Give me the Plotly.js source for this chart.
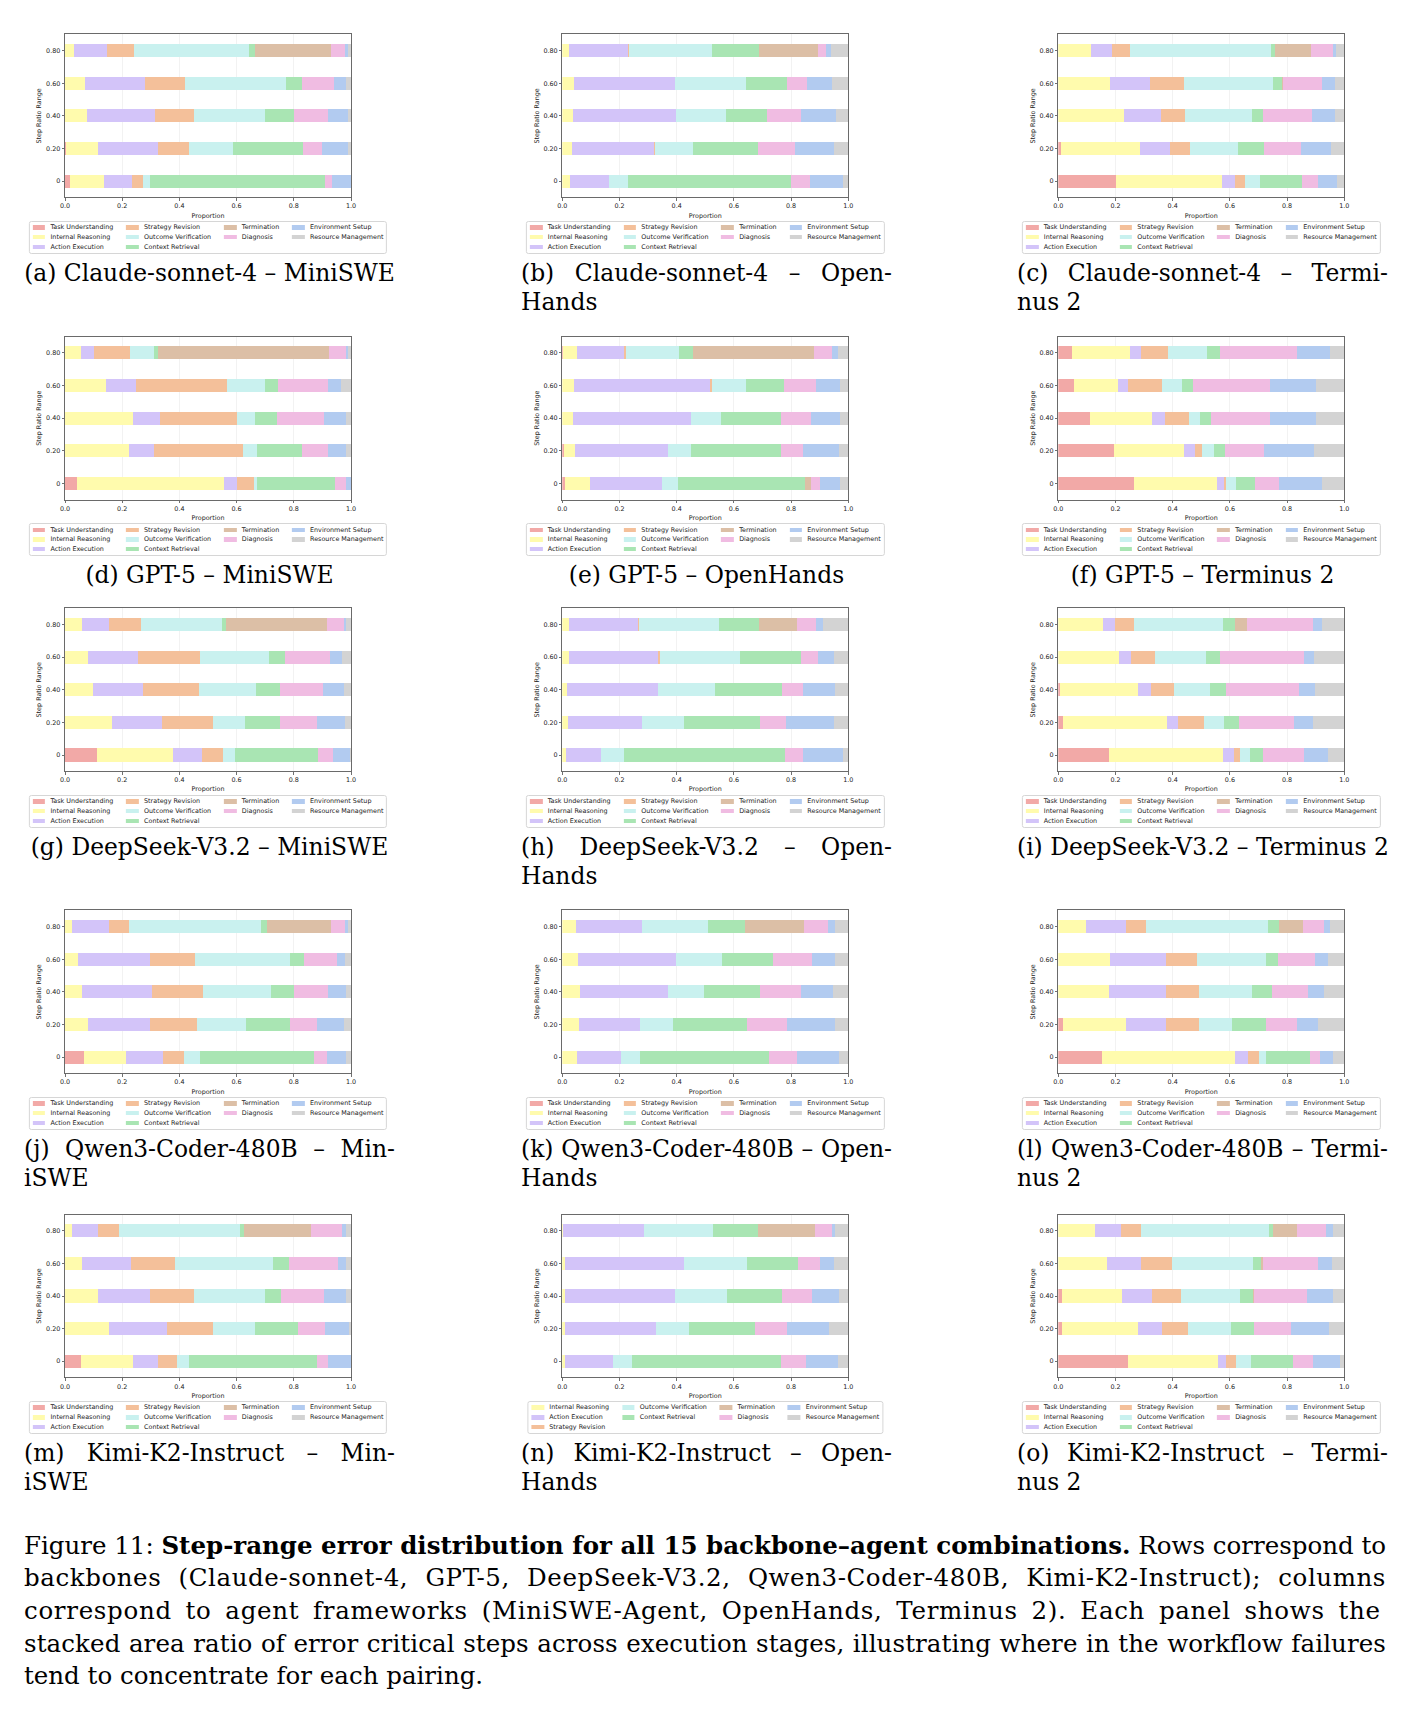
<!DOCTYPE html>
<html>
<head>
<meta charset="utf-8">
<script src="https://cdn.plot.ly/plotly-3.0.1.min.js"></script>
<style>
  body { margin: 0; background: #fff; }
  #page { position: relative; width: 1417px; height: 1709px; overflow: hidden; background: #fff; }
  #chart { position: absolute; left: 0; top: 0; width: 1417px; height: 1709px; }
  .legend { position: absolute; display: flex; border: 0.8px solid #d6d6d6; border-radius: 2.5px;
            background: rgba(255,255,255,0.85); padding: 2.7px 2.7px; font-family: 'DejaVu Sans';
            font-size: 6.4px; color: #222; transform: translateX(-50%); box-sizing: content-box; }
  .lcol { display: flex; flex-direction: column; margin-right: 12.8px; }
  .lcol:last-child { margin-right: 0; }
  .litem { display: flex; align-items: center; height: 6.4px; line-height: 6.4px; margin-bottom: 3.25px; white-space: nowrap; }
  .litem:last-child { margin-bottom: 0; }
  .sw { width: 12.8px; height: 4.5px; margin-right: 5.1px; flex: none; }
  .cap { position: absolute; font-family: 'DejaVu Serif'; font-size: 23.4px; line-height: 29.4px; color: #000; }
  .mcap { position: absolute; left: 24px; width: 1362px; font-family: 'DejaVu Serif'; font-size: 24.5px; line-height: 32.7px; color: #000; }
  .line { white-space: nowrap; }
</style>
</head>
<body>
<div id="page">
  <div id="chart"></div>
</div>
<script>
// ---------------- DATA ----------------
const categories = ['Task Understanding', 'Internal Reasoning', 'Action Execution', 'Strategy Revision',
  'Outcome Verification', 'Context Retrieval', 'Termination', 'Diagnosis', 'Environment Setup', 'Resource Management'];
const rangeLabels = ['0', '0.20', '0.40', '0.60', '0.80'];
const xTickVals = [0, 0.2, 0.4, 0.6, 0.8, 1.0];
const xTickText = ['0.0', '0.2', '0.4', '0.6', '0.8', '1.0'];
const kimiOpenHandsLegend = ['Internal Reasoning', 'Action Execution', 'Strategy Revision', 'Outcome Verification',
  'Context Retrieval', 'Termination', 'Diagnosis', 'Environment Setup', 'Resource Management'];

// rows: categories (order above); columns: step ratio ranges 0, 0.20, 0.40, 0.60, 0.80
const claudeMiniSWE = [
  [0.019, 0.004, 0, 0, 0],
  [0.119, 0.110, 0.077, 0.070, 0.030],
  [0.095, 0.210, 0.237, 0.208, 0.116],
  [0.041, 0.110, 0.138, 0.141, 0.094],
  [0.024, 0.153, 0.248, 0.355, 0.405],
  [0.611, 0.245, 0.100, 0.053, 0.020],
  [0, 0, 0, 0, 0.265],
  [0.023, 0.066, 0.118, 0.115, 0.048],
  [0.068, 0.090, 0.073, 0.042, 0.012],
  [0, 0.012, 0.009, 0.016, 0.010]
];
const claudeOpenHands = [
  [0, 0, 0, 0, 0],
  [0.027, 0.034, 0.039, 0.041, 0.022],
  [0.135, 0.285, 0.357, 0.353, 0.207],
  [0, 0.005, 0, 0, 0.005],
  [0.068, 0.132, 0.178, 0.247, 0.291],
  [0.570, 0.229, 0.142, 0.145, 0.163],
  [0, 0, 0, 0, 0.206],
  [0.066, 0.127, 0.118, 0.068, 0.029],
  [0.115, 0.138, 0.124, 0.089, 0.016],
  [0.019, 0.050, 0.042, 0.057, 0.061]
];
const claudeTerminus = [
  [0.203, 0.008, 0, 0, 0],
  [0.369, 0.279, 0.230, 0.181, 0.115],
  [0.045, 0.102, 0.128, 0.141, 0.073],
  [0.037, 0.073, 0.085, 0.117, 0.064],
  [0.052, 0.166, 0.234, 0.313, 0.493],
  [0.145, 0.092, 0.039, 0.029, 0.014],
  [0, 0, 0, 0.005, 0.124],
  [0.056, 0.128, 0.172, 0.137, 0.077],
  [0.066, 0.107, 0.081, 0.044, 0.011],
  [0.027, 0.045, 0.031, 0.033, 0.029]
];
const gpt5MiniSWE = [
  [0.041, 0, 0, 0, 0],
  [0.516, 0.225, 0.239, 0.145, 0.056],
  [0.045, 0.085, 0.094, 0.102, 0.044],
  [0.058, 0.313, 0.267, 0.321, 0.128],
  [0.010, 0.047, 0.065, 0.132, 0.084],
  [0.273, 0.158, 0.076, 0.044, 0.012],
  [0, 0, 0, 0, 0.599],
  [0.039, 0.090, 0.163, 0.175, 0.059],
  [0.018, 0.064, 0.077, 0.045, 0.009],
  [0, 0.018, 0.019, 0.036, 0.009]
];
const gpt5OpenHands = [
  [0.009, 0.005, 0, 0, 0.004],
  [0.088, 0.039, 0.036, 0.041, 0.049],
  [0.253, 0.324, 0.415, 0.474, 0.164],
  [0, 0, 0, 0.007, 0.004],
  [0.055, 0.082, 0.104, 0.122, 0.188],
  [0.445, 0.315, 0.208, 0.131, 0.047],
  [0.020, 0, 0, 0, 0.424],
  [0.032, 0.076, 0.107, 0.111, 0.064],
  [0.069, 0.126, 0.101, 0.085, 0.019],
  [0.029, 0.033, 0.029, 0.029, 0.037]
];
const gpt5Terminus = [
  [0.266, 0.196, 0.110, 0.056, 0.049],
  [0.289, 0.243, 0.218, 0.153, 0.202],
  [0.025, 0.039, 0.044, 0.036, 0.037],
  [0.005, 0.025, 0.084, 0.116, 0.097],
  [0.035, 0.041, 0.039, 0.070, 0.134],
  [0.066, 0.039, 0.040, 0.039, 0.047],
  [0, 0, 0, 0, 0],
  [0.087, 0.135, 0.205, 0.270, 0.267],
  [0.149, 0.177, 0.160, 0.162, 0.117],
  [0.078, 0.105, 0.100, 0.098, 0.050]
];
const deepseekMiniSWE = [
  [0.112, 0, 0, 0, 0],
  [0.264, 0.165, 0.098, 0.079, 0.058],
  [0.102, 0.173, 0.173, 0.175, 0.097],
  [0.075, 0.179, 0.198, 0.219, 0.112],
  [0.042, 0.113, 0.200, 0.240, 0.283],
  [0.291, 0.123, 0.081, 0.056, 0.012],
  [0, 0, 0, 0, 0.353],
  [0.051, 0.127, 0.152, 0.157, 0.060],
  [0.058, 0.098, 0.072, 0.044, 0.009],
  [0.005, 0.022, 0.026, 0.030, 0.016]
];
const deepseekOpenHands = [
  [0, 0, 0, 0, 0],
  [0.014, 0.021, 0.016, 0.022, 0.025],
  [0.123, 0.259, 0.319, 0.314, 0.239],
  [0, 0, 0, 0.004, 0.004],
  [0.078, 0.144, 0.200, 0.283, 0.281],
  [0.562, 0.269, 0.234, 0.213, 0.140],
  [0, 0, 0, 0, 0.132],
  [0.063, 0.090, 0.074, 0.057, 0.067],
  [0.141, 0.168, 0.111, 0.057, 0.023],
  [0.019, 0.049, 0.046, 0.050, 0.089]
];
const deepseekTerminus = [
  [0.176, 0.015, 0.005, 0, 0],
  [0.399, 0.365, 0.274, 0.213, 0.156],
  [0.040, 0.040, 0.044, 0.042, 0.043],
  [0.021, 0.089, 0.081, 0.082, 0.066],
  [0.033, 0.071, 0.126, 0.179, 0.312],
  [0.048, 0.052, 0.057, 0.048, 0.041],
  [0, 0, 0, 0, 0.043],
  [0.141, 0.193, 0.254, 0.294, 0.228],
  [0.084, 0.067, 0.058, 0.037, 0.032],
  [0.058, 0.108, 0.101, 0.105, 0.079]
];
const qwenMiniSWE = [
  [0.067, 0, 0, 0, 0],
  [0.148, 0.080, 0.061, 0.046, 0.025],
  [0.129, 0.218, 0.243, 0.252, 0.128],
  [0.073, 0.165, 0.178, 0.156, 0.071],
  [0.055, 0.169, 0.239, 0.334, 0.463],
  [0.399, 0.153, 0.079, 0.046, 0.019],
  [0, 0, 0, 0, 0.223],
  [0.046, 0.095, 0.120, 0.117, 0.050],
  [0.065, 0.095, 0.062, 0.028, 0.011],
  [0.018, 0.025, 0.018, 0.021, 0.010]
];
const qwenOpenHands = [
  [0, 0, 0, 0, 0],
  [0.052, 0.058, 0.061, 0.055, 0.049],
  [0.154, 0.212, 0.310, 0.344, 0.230],
  [0, 0, 0, 0, 0],
  [0.064, 0.117, 0.126, 0.159, 0.230],
  [0.454, 0.260, 0.196, 0.178, 0.129],
  [0, 0, 0, 0, 0.206],
  [0.095, 0.138, 0.141, 0.138, 0.085],
  [0.147, 0.169, 0.111, 0.080, 0.025],
  [0.034, 0.046, 0.055, 0.046, 0.046]
];
const qwenTerminus = [
  [0.152, 0.018, 0, 0, 0],
  [0.467, 0.220, 0.177, 0.180, 0.098],
  [0.046, 0.140, 0.201, 0.198, 0.137],
  [0.036, 0.113, 0.113, 0.107, 0.073],
  [0.025, 0.116, 0.186, 0.241, 0.424],
  [0.155, 0.119, 0.070, 0.042, 0.039],
  [0, 0, 0, 0, 0.083],
  [0.034, 0.109, 0.125, 0.131, 0.076],
  [0.045, 0.074, 0.058, 0.043, 0.021],
  [0.040, 0.091, 0.070, 0.058, 0.049]
];
const kimiMiniSWE = [
  [0.055, 0, 0, 0, 0],
  [0.181, 0.153, 0.117, 0.058, 0.025],
  [0.089, 0.203, 0.181, 0.172, 0.092],
  [0.068, 0.162, 0.153, 0.153, 0.073],
  [0.039, 0.145, 0.248, 0.344, 0.423],
  [0.448, 0.150, 0.056, 0.055, 0.013],
  [0, 0, 0, 0, 0.233],
  [0.040, 0.095, 0.150, 0.172, 0.110],
  [0.080, 0.086, 0.077, 0.028, 0.013],
  [0, 0.006, 0.018, 0.018, 0.018]
];
const kimiOpenHands = [
  [0, 0, 0, 0, 0],
  [0.009, 0.009, 0.009, 0.009, 0.003],
  [0.169, 0.319, 0.386, 0.416, 0.283],
  [0, 0, 0, 0, 0],
  [0.066, 0.115, 0.180, 0.220, 0.241],
  [0.521, 0.232, 0.193, 0.180, 0.157],
  [0, 0, 0, 0, 0.199],
  [0.087, 0.111, 0.105, 0.075, 0.060],
  [0.112, 0.145, 0.094, 0.049, 0.012],
  [0.036, 0.069, 0.033, 0.051, 0.045]
];
const kimiTerminus = [
  [0.244, 0.012, 0.012, 0, 0],
  [0.314, 0.265, 0.211, 0.171, 0.128],
  [0.027, 0.086, 0.106, 0.119, 0.092],
  [0.037, 0.091, 0.101, 0.106, 0.070],
  [0.052, 0.150, 0.207, 0.284, 0.445],
  [0.146, 0.079, 0.043, 0.030, 0.015],
  [0, 0, 0.005, 0.006, 0.085],
  [0.070, 0.131, 0.184, 0.193, 0.101],
  [0.095, 0.131, 0.091, 0.048, 0.024],
  [0.015, 0.055, 0.040, 0.043, 0.040]
];

const panelData = [claudeMiniSWE, claudeOpenHands, claudeTerminus,
                   gpt5MiniSWE, gpt5OpenHands, gpt5Terminus,
                   deepseekMiniSWE, deepseekOpenHands, deepseekTerminus,
                   qwenMiniSWE, qwenOpenHands, qwenTerminus,
                   kimiMiniSWE, kimiOpenHands, kimiTerminus];
const panelLegends = [categories, categories, categories, categories, categories, categories,
                      categories, categories, categories, categories, categories, categories,
                      categories, kimiOpenHandsLegend, categories];
// caption lines: one entry = one line
const panelCaptions = [
  ['(a) Claude-sonnet-4 – MiniSWE'],
  ['(b) Claude-sonnet-4 – Open-', 'Hands'],
  ['(c) Claude-sonnet-4 – Termi-', 'nus 2'],
  ['(d) GPT-5 – MiniSWE'],
  ['(e) GPT-5 – OpenHands'],
  ['(f) GPT-5 – Terminus 2'],
  ['(g) DeepSeek-V3.2 – MiniSWE'],
  ['(h) DeepSeek-V3.2 – Open-', 'Hands'],
  ['(i) DeepSeek-V3.2 – Terminus 2'],
  ['(j) Qwen3-Coder-480B – Min-', 'iSWE'],
  ['(k) Qwen3-Coder-480B – Open-', 'Hands'],
  ['(l) Qwen3-Coder-480B – Termi-', 'nus 2'],
  ['(m) Kimi-K2-Instruct – Min-', 'iSWE'],
  ['(n) Kimi-K2-Instruct – Open-', 'Hands'],
  ['(o) Kimi-K2-Instruct – Termi-', 'nus 2']
];
const figureCaptionLines = [
  'Figure 11: <b>Step-range error distribution for all 15 backbone–agent combinations.</b> Rows correspond to',
  'backbones (Claude-sonnet-4, GPT-5, DeepSeek-V3.2, Qwen3-Coder-480B, Kimi-K2-Instruct); columns',
  'correspond to agent frameworks (MiniSWE-Agent, OpenHands, Terminus 2).  Each panel shows the',
  'stacked area ratio of error critical steps across execution stages, illustrating where in the workflow failures',
  'tend to concentrate for each pairing.'
];

// ---------------- STYLE / GEOMETRY ----------------
const colors = ['#f2a9a7', '#fffbad', '#d3c4f9', '#f4c09a', '#c9f1ef', '#a9e5b3',
                '#dcbfa6', '#f0bce2', '#b2cbf0', '#d3d3d3'];
const W = 1417, H = 1709;
const colLeft = [65, 562.3, 1058.3];
const axesW = 286;
const rowTop = [34.4, 336.6, 608.3, 910.4, 1214.5];
const axesH = 163;
const capLeft = [24, 521, 1017];
const capW = 371;
const FS = 6.4;
const FONT = 'DejaVu Sans';

const traces = [];
const layout = {
  width: W, height: H, margin: {l: 0, r: 0, t: 0, b: 0},
  paper_bgcolor: '#ffffff', plot_bgcolor: '#ffffff',
  barmode: 'stack', showlegend: false,
  font: {family: FONT, size: FS, color: '#222'}
};

const page = document.getElementById('page');

panelData.forEach((data, p) => {
  const r = Math.floor(p / 3), c = p % 3;
  const sfx = p === 0 ? '' : String(p + 1);
  const x0 = colLeft[c], x1 = x0 + axesW;
  const y0 = rowTop[r], y1 = y0 + axesH;

  data.forEach((vals, k) => {
    traces.push({
      type: 'bar', orientation: 'h',
      x: vals, y: rangeLabels,
      xaxis: 'x' + sfx, yaxis: 'y' + sfx,
      name: categories[k],
      marker: {color: colors[k], line: {width: 0}},
      width: 0.4, showlegend: false,
      hovertemplate: categories[k] + ': %{x:.3f}<extra></extra>'
    });
  });

  layout['xaxis' + sfx] = {
    domain: [x0 / W, x1 / W], anchor: 'y' + sfx,
    range: [0, 1], tickvals: xTickVals, ticktext: xTickText,
    ticks: 'outside', ticklen: 2.5, tickwidth: 0.7, tickcolor: '#333',
    showline: true, mirror: true, linecolor: '#5a5a5a', linewidth: 0.9,
    showgrid: true, gridcolor: '#e9e9e9', gridwidth: 0.6, zeroline: false,
    tickfont: {family: FONT, size: FS, color: '#222'},
    title: {text: 'Proportion', font: {family: FONT, size: FS, color: '#222'}, standoff: 3},
    fixedrange: true
  };
  layout['yaxis' + sfx] = {
    domain: [1 - y1 / H, 1 - y0 / H], anchor: 'x' + sfx,
    type: 'category', categoryorder: 'array', categoryarray: rangeLabels,
    range: [-0.5, 4.5],
    ticks: 'outside', ticklen: 2.5, tickwidth: 0.7, tickcolor: '#333',
    showline: true, mirror: true, linecolor: '#5a5a5a', linewidth: 0.9,
    showgrid: false, zeroline: false,
    tickfont: {family: FONT, size: FS, color: '#222'},
    title: {text: 'Step Ratio Range', font: {family: FONT, size: FS, color: '#222'}, standoff: 3},
    fixedrange: true
  };

  // legend (matplotlib-style, 4 columns, column-major)
  const cats = panelLegends[p];
  const ncol = 4, n = cats.length;
  const base = Math.floor(n / ncol), large = n % ncol;
  const leg = document.createElement('div');
  leg.className = 'legend';
  leg.style.left = (x0 + axesW / 2) + 'px';
  leg.style.top = (y1 + 23.3) + 'px';
  let idx = 0;
  for (let col = 0; col < ncol; col++) {
    const cnt = col < large ? base + 1 : base;
    const cdiv = document.createElement('div');
    cdiv.className = 'lcol';
    for (let j = 0; j < cnt; j++) {
      const name = cats[idx++];
      const it = document.createElement('div');
      it.className = 'litem';
      const sw = document.createElement('span');
      sw.className = 'sw';
      sw.style.background = colors[categories.indexOf(name)];
      const tx = document.createElement('span');
      tx.textContent = name;
      it.appendChild(sw); it.appendChild(tx);
      cdiv.appendChild(it);
    }
    leg.appendChild(cdiv);
  }
  page.appendChild(leg);

  // sub-caption
  const lines = panelCaptions[p];
  const cap = document.createElement('div');
  cap.className = 'cap';
  cap.style.left = capLeft[c] + 'px';
  cap.style.width = capW + 'px';
  cap.style.top = (y1 + 76 - 14.7) + 'px';
  if (lines.length === 1) {
    cap.style.textAlign = 'center';
    const d = document.createElement('div');
    d.className = 'line';
    d.textContent = lines[0];
    cap.appendChild(d);
  } else {
    lines.forEach((ln, i) => {
      const d = document.createElement('div');
      d.className = 'line' + (i < lines.length - 1 ? ' just' : '');
      d.textContent = ln;
      cap.appendChild(d);
    });
  }
  page.appendChild(cap);
});

// figure caption
const mcap = document.createElement('div');
mcap.className = 'mcap';
mcap.style.top = (1546 - 16.35) + 'px';
figureCaptionLines.forEach((ln, i) => {
  const d = document.createElement('div');
  d.className = 'line' + (i < figureCaptionLines.length - 1 ? ' just mixed' : '');
  d.innerHTML = ln;
  mcap.appendChild(d);
});
page.appendChild(mcap);

// justify lines exactly as in the reference line breaks
function justifyLines() {
  document.querySelectorAll('.just').forEach(el => {
    const target = el.parentElement.clientWidth;
    const span = document.createElement('span');
    while (el.firstChild) span.appendChild(el.firstChild);
    el.appendChild(span);
    const w = span.getBoundingClientRect().width;
    const txt = span.textContent;
    const nsp = (txt.match(/ /g) || []).length;
    const nch = txt.length;
    const extra = target - w;
    if (extra > 0 && nsp > 0) {
      if (el.classList.contains('mixed')) {
        // share the stretch between letters and word gaps
        const ls = Math.min(0.5 * extra / nch, 0.8);
        el.style.letterSpacing = ls + 'px';
        const w2 = span.getBoundingClientRect().width;
        el.style.wordSpacing = ((target - w2) / nsp) + 'px';
      } else {
        el.style.wordSpacing = (extra / nsp) + 'px';
      }
    } else if (extra < 0) {
      el.style.letterSpacing = (extra / nch) + 'px';
    }
  });
}
justifyLines();

Plotly.newPlot('chart', traces, layout, {displayModeBar: false, staticPlot: true});
</script>
</body>
</html>
